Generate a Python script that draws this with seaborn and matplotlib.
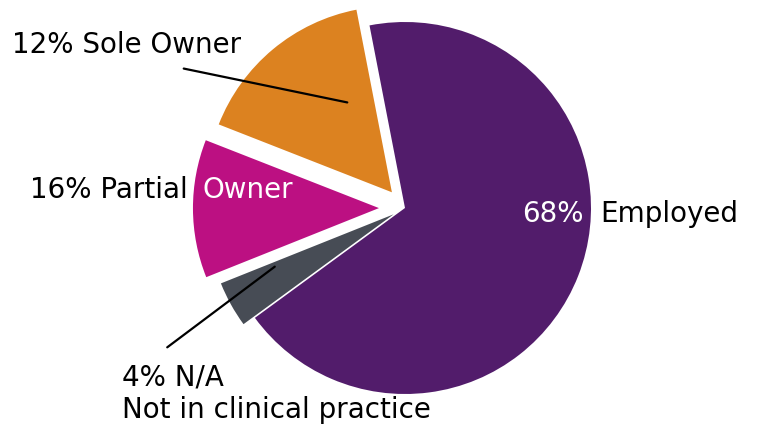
import numpy as np
import matplotlib.pyplot as plt
import seaborn as sns

# wedge sizes as drawn, clockwise from the top
sizes = [68, 4, 12, 16]
names = ['Employed', 'N/A', 'Partial Owner', 'Sole Owner']
colors = ['#521c6b', '#474c55', '#bc1082', '#dc8220']
explode = [0.0, 0.07, 0.14, 0.11]

sns.set_theme(style='white')
plt.rcParams['font.family'] = ['DejaVu Sans']

W, H = 760, 426
fig = plt.figure(figsize=(W / 100, H / 100), dpi=100)
ax = fig.add_axes([0, 0, 1, 1])

wedges, _ = ax.pie(sizes, colors=colors, explode=explode, startangle=101,
                   counterclock=False, radius=1.0,
                   wedgeprops=dict(linewidth=0))

# place the pie: centre at (405, 208) px, radius 186 px
cx, cy, r = 405, 208, 186
ax.set_xlim(-cx / r, (W - cx) / r)
ax.set_ylim(-(H - cy) / r, cy / r)
ax.set_aspect('equal')
ax.axis('off')


def px(x, y):
    return x / W, 1 - y / H


fs = 20
txt = dict(fontsize=fs, va='center', ha='left', transform=ax.transAxes)

ax.text(*px(12, 45), '12% Sole Owner', color='black', **txt)
ax.text(*px(30, 190), '16% Partial', color='black', **txt)
ax.text(*px(203, 190), 'Owner', color='white', **txt)
ax.text(*px(522, 214), '68%', color='white', **txt)
ax.text(*px(600, 214), 'Employed', color='black', **txt)
ax.text(*px(122, 378), '4% N/A', color='black', **txt)
ax.text(*px(122, 410), 'Not in clinical practice', color='black', **txt)

# leader lines
ax.annotate('', xy=px(350, 103), xytext=px(181, 68), xycoords='axes fraction',
            textcoords='axes fraction',
            arrowprops=dict(arrowstyle='-', color='black', lw=1.6))
ax.annotate('', xy=px(277, 265), xytext=px(165, 349), xycoords='axes fraction',
            textcoords='axes fraction',
            arrowprops=dict(arrowstyle='-', color='black', lw=1.6))

fig.savefig('out.png', dpi=100)
